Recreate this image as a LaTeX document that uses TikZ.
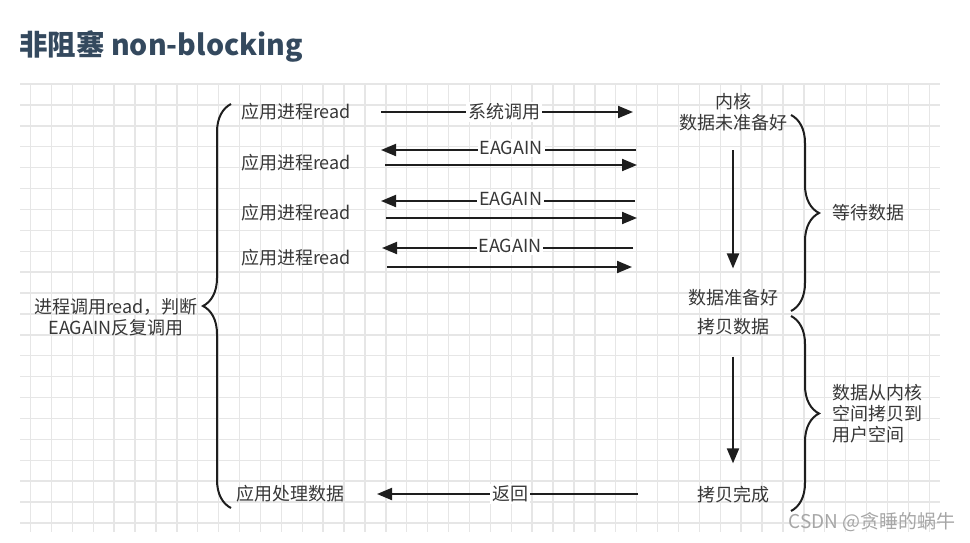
\documentclass[tikz,border=0pt]{standalone}
\usepackage{fontspec}
\setmainfont{Noto Sans CJK SC}
\usetikzlibrary{positioning, arrows.meta, decorations.pathreplacing}
\definecolor{titleblue}{RGB}{52,73,94}
\definecolor{textgray}{RGB}{55,55,55}
\definecolor{linegray}{RGB}{30,30,30}
\definecolor{gridgray}{RGB}{230,230,230}
\tikzset{Arrow/.style={
%custom arrow for the calls:
line width=2pt, draw=linegray,
-{Triangle[length=15pt, width=12pt]}
}}

\begin{document}
\begin{tikzpicture}[x=1pt, y=-1pt,
		txt/.style = {font=\fontsize{18}{21}\selectfont, text=textgray, inner sep=1pt},
		callbox/.style = {txt, fill=white, inner sep=2pt},
		Brace/.style = {line width=2pt, draw=linegray, decorate, decoration={brace, amplitude=28pt, aspect=0.5}},
	]
	\useasboundingbox (0,0) rectangle (970,542);

	% background grid
	\foreach \i in {0,...,43}
		\draw[gridgray, line width=1.4pt] (30.5+20.9*\i,83) -- (30.5+20.9*\i,532);
	\foreach \j in {0,...,21}
		\draw[gridgray, line width=1.4pt] (20,84+20.9*\j) -- (940,84+20.9*\j);

	\node[anchor=west, text=titleblue, font=\fontsize{28.5}{33}\selectfont\bfseries, inner sep=0pt] (title) at (19,46) {非阻塞 non-blocking};

	% user side
	\node[txt] (app1) at (296,112) {应用进程read};
	\node[txt] (app2) at (296,163) {应用进程read};
	\node[txt] (app3) at (296,213) {应用进程read};
	\node[txt] (app4) at (296,258) {应用进程read};
	\node[txt] (appdone) at (290,494) {应用处理数据};
	\node[txt, align=center] (loop) at (116,317) {进程调用read，判断\\EAGAIN反复调用};

	% kernel side
	\node[txt, align=center] (notready) at (733,112) {内核\\数据未准备好};
	\node[txt] (ready) at (733,298) {数据准备好};
	\node[txt] (copy) at (733,327) {拷贝数据};
	\node[txt] (copied) at (733,495) {拷贝完成};
	\node[txt, anchor=west] (wait) at (831,213) {等待数据};
	\node[txt, anchor=west, align=left] (move) at (831,414) {数据从内核\\空间拷贝到\\用户空间};

	% ends of the calls
	\coordinate (u1) at (381,112);  \coordinate (k1) at (633,112);
	\coordinate (u2) at (381,150);  \coordinate (k2) at (636,150);
	\coordinate (u2b) at (385,165); \coordinate (k2b) at (637,165);
	\coordinate (u3) at (381,201);  \coordinate (k3) at (635,201);
	\coordinate (u3b) at (386,218); \coordinate (k3b) at (637,218);
	\coordinate (u4) at (382,248);  \coordinate (k4) at (633,248);
	\coordinate (u4b) at (387,267); \coordinate (k4b) at (632,267);
	\coordinate (u5) at (377,494);  \coordinate (k5) at (638,494);

	\draw[Arrow](u1)--node[callbox, pos=0.49] {系统调用}(k1);
	\draw[Arrow](k2)--node[callbox, pos=0.49, yshift=2pt] {EAGAIN}(u2);
	\draw[Arrow](u2b)--(k2b);
	\draw[Arrow](k3)--node[callbox, pos=0.49, yshift=2pt] {EAGAIN}(u3);
	\draw[Arrow](u3b)--(k3b);
	\draw[Arrow](k4)--node[callbox, pos=0.49, yshift=2pt] {EAGAIN}(u4);
	\draw[Arrow](u4b)--(k4b);
	\draw[Arrow](k5)--node[callbox, pos=0.49] {返回}(u5);

	\draw[Arrow, shorten <=18pt, shorten >=20pt](notready.south)--(ready.north);
	\draw[Arrow, shorten <=20pt, shorten >=22pt](copy.south)--(copied.north);

	% braces
	\coordinate (lb) at (231,508); \coordinate (lt) at (231,104);
	\draw[Brace](lb)--(lt);
	\coordinate (w1) at (791,115); \coordinate (w2) at (791,311);
	\draw[Brace](w1)--(w2);
	\coordinate (m1) at (791,316); \coordinate (m2) at (791,511);
	\draw[Brace](m1)--(m2);

	\node[anchor=east, text=gray!70, font=\fontsize{19}{22}\selectfont, inner sep=0pt] (mark) at (956,522) {CSDN @贪睡的蜗牛};
\end{tikzpicture}
\end{document}
